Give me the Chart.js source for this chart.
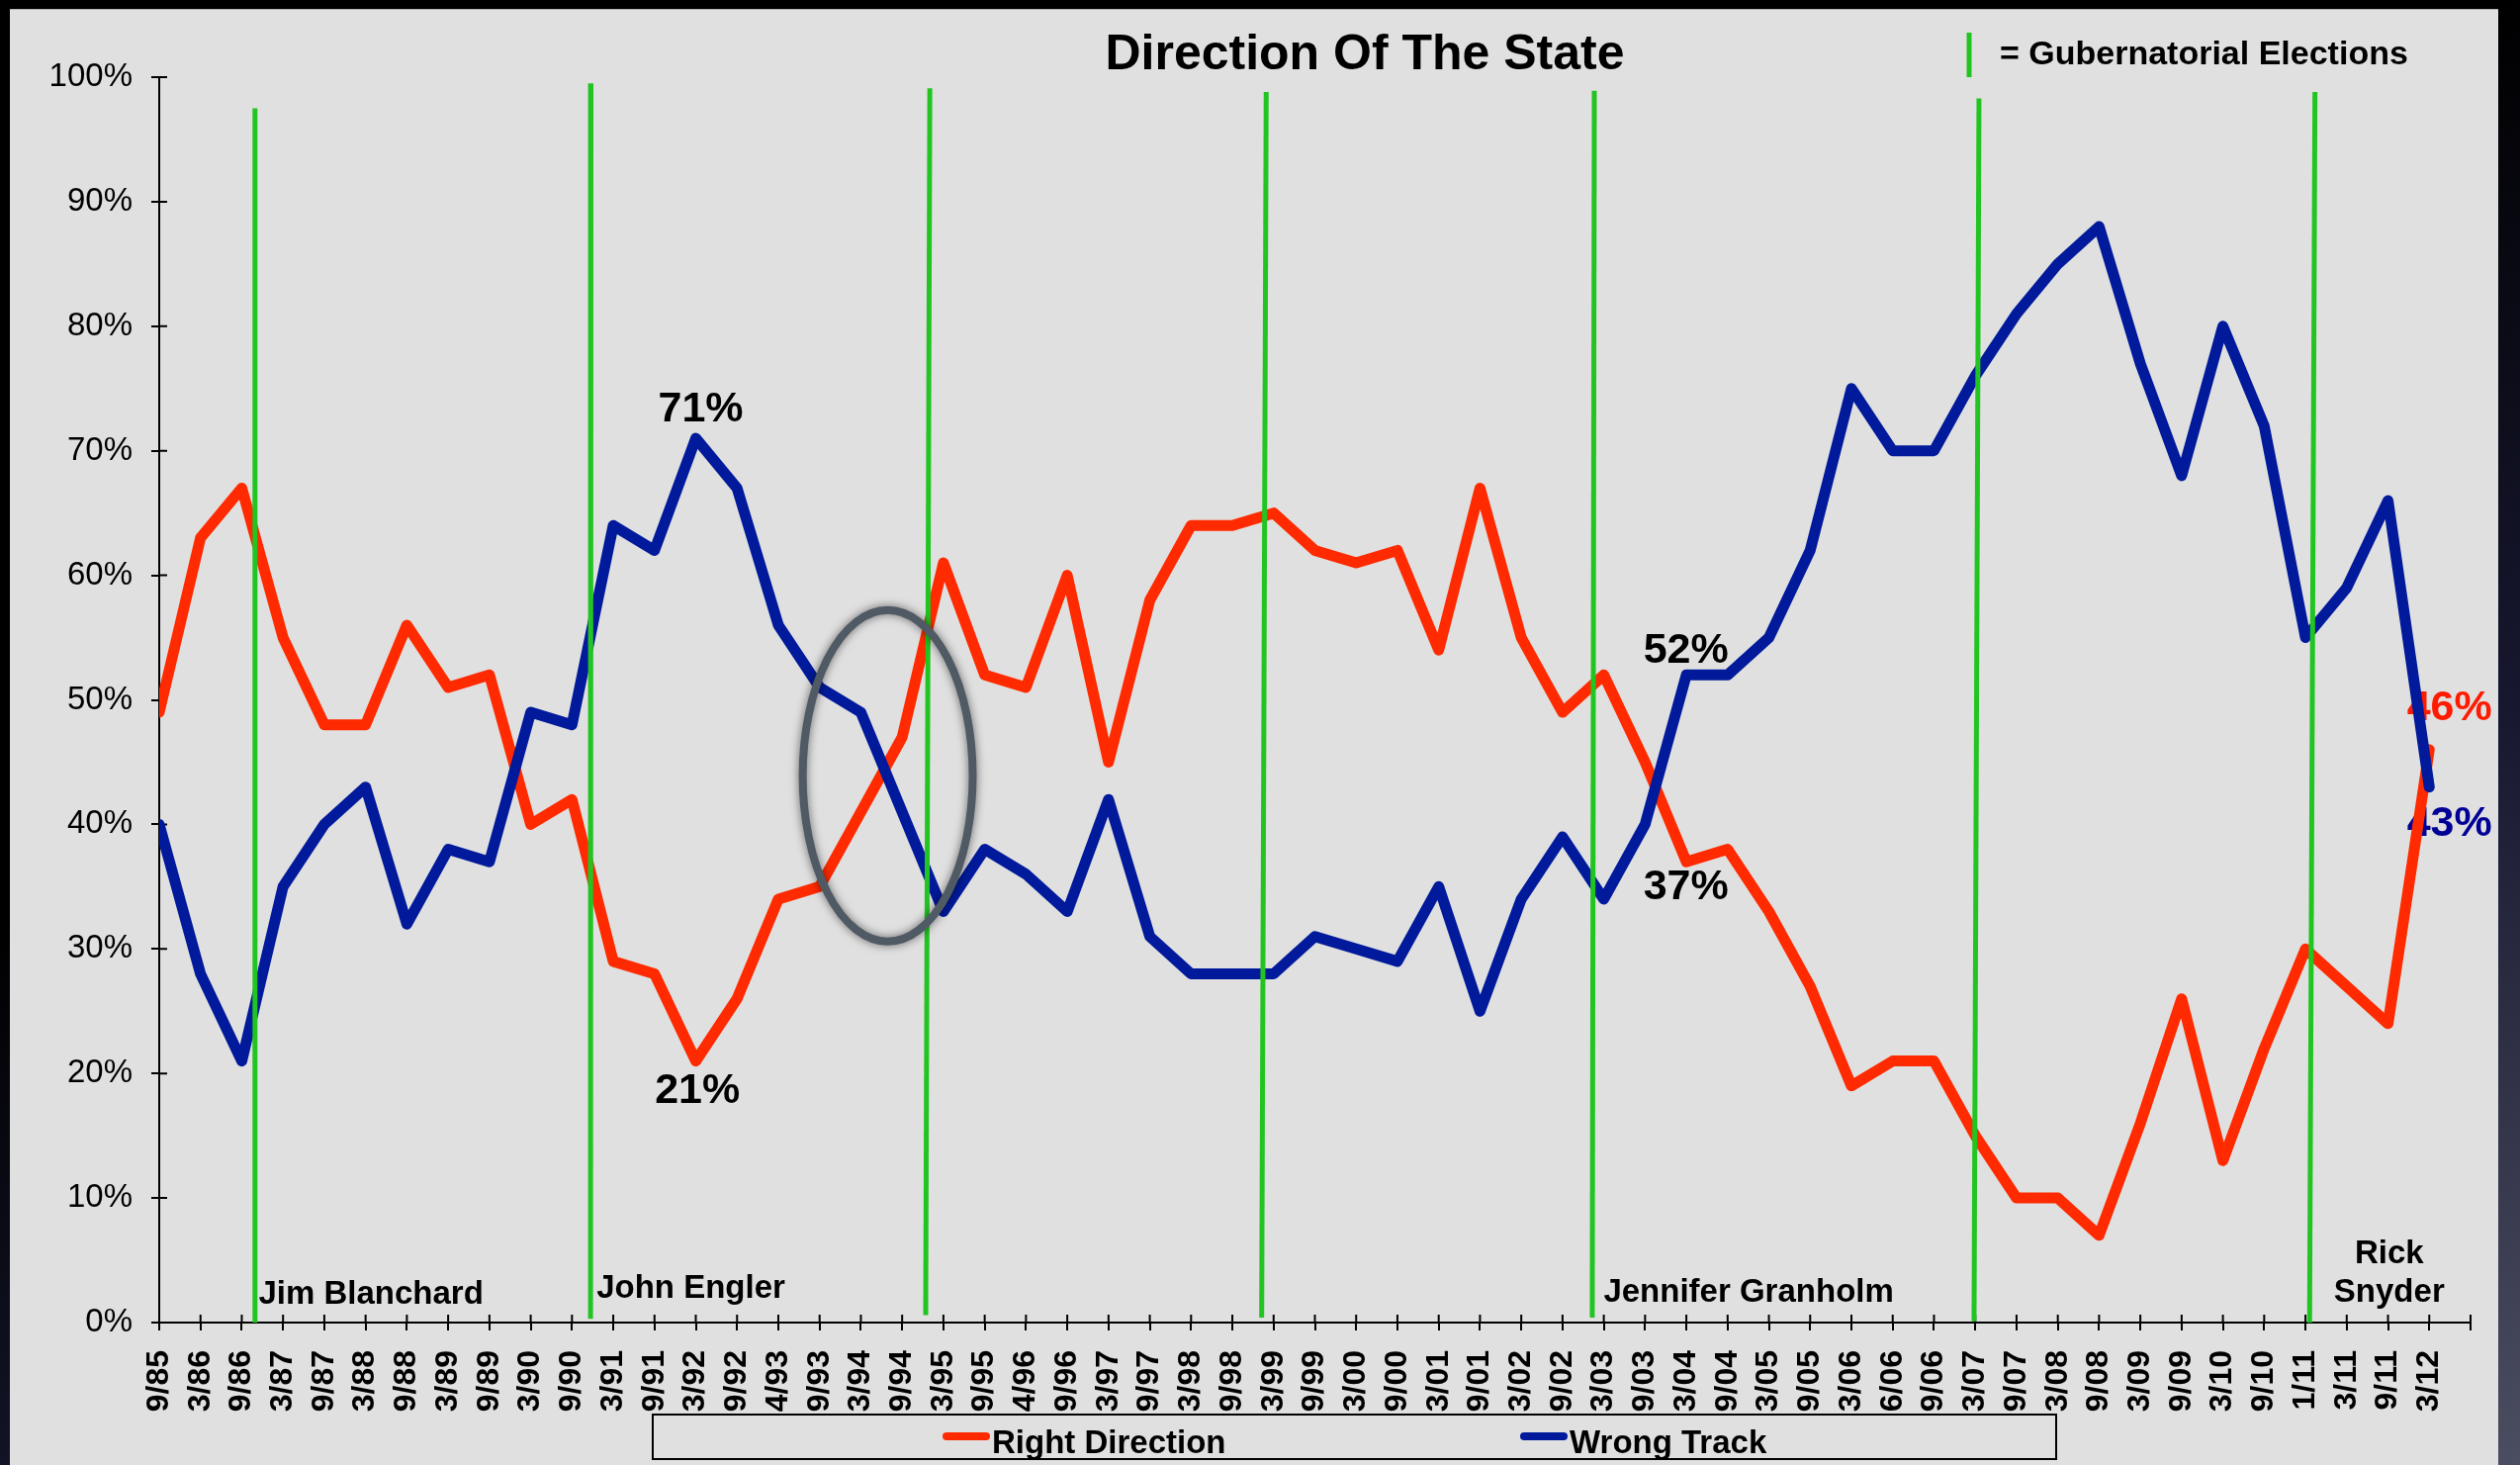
<!DOCTYPE html>
<html>
<head>
<meta charset="utf-8">
<title>Direction Of The State</title>
<script src="https://cdn.jsdelivr.net/npm/chart.js@4.4.1/dist/chart.umd.min.js"></script>
<style>
  html, body { margin: 0; padding: 0; }
  body {
    width: 2548px; height: 1481px; overflow: hidden; position: relative;
    background: linear-gradient(160deg, #000 0%, #000 38%, #171830 68%, #4b4d60 100%);
  }
  #panel {
    position: absolute; left: 10px; top: 9px; width: 2516px; height: 1472px;
    background: #e0e0e0; border-top: 1px solid #b5b5b5; box-sizing: border-box;
  }
  #wrap { position: absolute; left: 0; top: 0; width: 2548px; height: 1481px; }
</style>
</head>
<body>
<div id="panel"></div>
<div id="wrap"><canvas id="chart"></canvas></div>
<script>
// survey dates (x axis)
const categories = [
  '9/85', '3/86', '9/86', '3/87', '9/87', '3/88', '9/88', '3/89', '9/89', '3/90',
  '9/90', '3/91', '9/91', '3/92', '9/92', '4/93', '9/93', '3/94', '9/94', '3/95',
  '9/95', '4/96', '9/96', '3/97', '9/97', '3/98', '9/98', '3/99', '9/99', '3/00',
  '9/00', '3/01', '9/01', '3/02', '9/02', '3/03', '9/03', '3/04', '9/04', '3/05',
  '9/05', '3/06', '6/06', '9/06', '3/07', '9/07', '3/08', '9/08', '3/09', '9/09',
  '3/10', '9/10', '1/11', '3/11', '9/11', '3/12'
];

const rightDirection = [
  49, 63, 67, 55, 48, 48, 56, 51, 52, 40,
  42, 29, 28, 21, 26, 34, 35, 41, 47, 61,
  52, 51, 60, 45, 58, 64, 64, 65, 62, 61,
  62, 54, 67, 55, 49, 52, 45, 37, 38, 33,
  27, 19, 21, 21, 15, 10, 10, 7, 16, 26,
  13, 22, 30, 27, 24, 46
];

const wrongTrack = [
  40, 28, 21, 35, 40, 43, 32, 38, 37, 49,
  48, 64, 62, 71, 67, 56, 51, 49, 41, 33,
  38, 36, 33, 42, 31, 28, 28, 28, 31, 30,
  29, 35, 25, 34, 39, 34, 40, 52, 52, 55,
  62, 75, 70, 70, 76, 81, 85, 88, 77, 68,
  80, 72, 55, 59, 66, 43
];

// gubernatorial election markers (x in category index units, y in %)
const electionTopX = [2.32, 10.46, 18.67, 26.82, 34.77, 44.09, 52.23];
const electionBottomX = [2.32, 10.45, 18.57, 26.71, 34.72, 43.97, 52.10];
const electionTopY = [97.5, 99.5, 99.1, 98.8, 98.9, 98.3, 98.8];
const electionBottomY = [0, 0.3, 0.6, 0.4, 0.4, 0.1, 0];

const governorLabels = ['Jim Blanchard', 'John Engler', 'Jennifer Granholm', 'Rick\nSnyder'];
const governorX = [5.13, 12.88, 38.51, 54.03];
const governorY = [2.25, 2.7, 2.42, 2.42];

const calloutLabels = ['71%', '21%', '52%', '37%', '46%', '43%'];
const calloutX = [13.12, 13.04, 36.99, 36.99, 55.49, 55.49];
const calloutY = [73.3, 18.55, 53.9, 34.95, 49.3, 40.0];
const calloutColors = ['#000', '#000', '#000', '#000', '#ff1a00', '#000096'];

const RED = 'rgb(255, 42, 0)';
const BLUE = 'rgb(0, 26, 155)';
const GREEN = 'rgb(34, 196, 34)';
const FONT = "'Liberation Sans', Arial, Helvetica, sans-serif";

const electionSets = electionTopX.map((x, i) => ({
  label: 'Gubernatorial Elections',
  data: [{x: x, y: electionTopY[i]}, {x: electionBottomX[i], y: electionBottomY[i]}],
  borderColor: GREEN,
  borderWidth: 5,
  pointRadius: 0,
  order: 0
}));

const overlay = {
  id: 'overlay',
  beforeDatasetsDraw(chart) {
    const {ctx, chartArea, scales: {x, y}} = chart;
    ctx.save();
    // inner half of the axis ticks
    ctx.strokeStyle = '#000';
    ctx.lineWidth = 2;
    ctx.beginPath();
    x.ticks.forEach(t => {
      const px = x.getPixelForValue(t.value);
      ctx.moveTo(px, chartArea.bottom);
      ctx.lineTo(px, chartArea.bottom - 8);
    });
    y.ticks.forEach(t => {
      const py = y.getPixelForValue(t.value);
      ctx.moveTo(chartArea.left, py);
      ctx.lineTo(chartArea.left + 8, py);
    });
    ctx.stroke();

    ctx.textAlign = 'center';
    ctx.textBaseline = 'middle';
    ctx.fillStyle = '#000';
    ctx.font = 'bold 33px ' + FONT;
    governorLabels.forEach((lbl, i) => {
      const lines = lbl.split('\n');
      const px = x.getPixelForValue(governorX[i]);
      const py = y.getPixelForValue(governorY[i]);
      lines.forEach((ln, j) => {
        ctx.fillText(ln, px, py - (lines.length - 1 - j) * 39);
      });
    });

    ctx.font = 'bold 43px ' + FONT;
    calloutLabels.forEach((lbl, i) => {
      ctx.fillStyle = calloutColors[i];
      ctx.fillText(lbl, x.getPixelForValue(calloutX[i]), y.getPixelForValue(calloutY[i]));
    });
    ctx.restore();
  },
  afterDatasetsDraw(chart) {
    const {ctx, scales: {x, y}} = chart;
    // the ellipse around the 1994 crossover
    const cx = x.getPixelForValue(17.65);
    const cy = y.getPixelForValue(43.9);
    const rx = x.getPixelForValue(17.65 + 2.06) - cx;
    const ry = cy - y.getPixelForValue(43.9 + 13.3);
    ctx.save();
    ctx.shadowColor = 'rgba(0, 0, 0, 0.55)';
    ctx.shadowBlur = 10;
    ctx.strokeStyle = '#505a64';
    ctx.lineWidth = 8;
    ctx.beginPath();
    ctx.ellipse(cx, cy, rx, ry, 0, 0, Math.PI * 2);
    ctx.stroke();
    ctx.restore();
  },
  afterDraw(chart) {
    const {ctx} = chart;
    ctx.save();
    ctx.fillStyle = '#000';
    ctx.textBaseline = 'alphabetic';

    // title
    ctx.textAlign = 'center';
    ctx.font = 'bold 50px ' + FONT;
    ctx.fillText('Direction Of The State', 1380, 70);

    // election key
    ctx.strokeStyle = GREEN;
    ctx.lineWidth = 5;
    ctx.beginPath();
    ctx.moveTo(1991, 33);
    ctx.lineTo(1991, 78);
    ctx.stroke();
    ctx.textAlign = 'left';
    ctx.font = 'bold 34px ' + FONT;
    ctx.fillText('= Gubernatorial Elections', 2022, 65);

    // series legend box
    ctx.strokeStyle = '#000';
    ctx.lineWidth = 2;
    ctx.strokeRect(660, 1430, 1419, 45);
    const series = chart.data.datasets.filter(d => d.label !== 'Gubernatorial Elections');
    const starts = [953, 1537];
    ctx.font = 'bold 33px ' + FONT;
    ctx.lineCap = 'round';
    series.forEach((ds, i) => {
      ctx.strokeStyle = ds.borderColor;
      ctx.lineWidth = 8;
      ctx.beginPath();
      ctx.moveTo(starts[i] + 4, 1452);
      ctx.lineTo(starts[i] + 44, 1452);
      ctx.stroke();
      ctx.fillStyle = '#000';
      ctx.fillText(ds.label, starts[i] + 50, 1469);
    });
    ctx.restore();
  }
};

new Chart(document.getElementById('chart'), {
  type: 'line',
  data: {
    datasets: [
      ...electionSets,
      {
        label: 'Right Direction',
        data: rightDirection.map((v, i) => ({x: i, y: v})),
        borderColor: RED,
        borderWidth: 11,
        pointRadius: 0,
        borderJoinStyle: 'round',
        borderCapStyle: 'round',
        order: 2
      },
      {
        label: 'Wrong Track',
        data: wrongTrack.map((v, i) => ({x: i, y: v})),
        borderColor: BLUE,
        borderWidth: 11,
        pointRadius: 0,
        borderJoinStyle: 'round',
        borderCapStyle: 'round',
        order: 1
      }
    ]
  },
  options: {
    responsive: true,
    maintainAspectRatio: false,
    animation: false,
    layout: {padding: {top: 78, right: 50, bottom: 0, left: 0}},
    plugins: {
      legend: {display: false},
      tooltip: {enabled: false}
    },
    scales: {
      x: {
        type: 'linear',
        min: 0,
        max: categories.length,
        afterFit: s => {
          s.height = 144;
          s.paddingLeft = 0;
          s.paddingRight = 0;
        },
        grid: {drawOnChartArea: false, color: '#000', lineWidth: 2, tickLength: 8},
        border: {color: '#000', width: 2},
        ticks: {
          stepSize: 1,
          maxTicksLimit: 100,
          autoSkip: false,
          maxRotation: 90,
          minRotation: 90,
          padding: 20,
          color: '#000',
          font: {family: FONT, size: 32, weight: 'bold'},
          callback: v => categories[v] ?? ''
        }
      },
      y: {
        min: 0,
        max: 100,
        afterFit: s => { s.width = 161; },
        grid: {drawOnChartArea: false, color: '#000', lineWidth: 2, tickLength: 8},
        border: {color: '#000', width: 2},
        ticks: {
          stepSize: 10,
          padding: 19,
          color: '#000',
          font: {family: FONT, size: 33},
          callback: v => v + '%'
        }
      }
    }
  },
  plugins: [overlay]
});
</script>
</body>
</html>
